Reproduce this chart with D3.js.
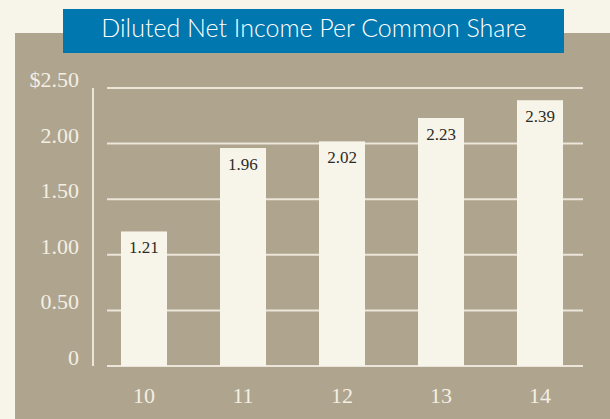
<!DOCTYPE html>
<html><head><meta charset="utf-8">
<script src="https://cdn.jsdelivr.net/npm/d3@7"></script>
<style>html,body{margin:0;padding:0;background:#f7f4e9;}svg{display:block;}</style>
</head><body>
<svg id="c" width="610" height="419"></svg>
<script>
const title = "Diluted Net Income Per Common Share";
const years = ["10", "11", "12", "13", "14"];
const values = [1.21, 1.96, 2.02, 2.23, 2.39];
const valueLabels = ["1.21", "1.96", "2.02", "2.23", "2.39"];
const yTicks = [0, 0.5, 1.0, 1.5, 2.0, 2.5];
const yTickLabels = ["0", "0.50", "1.00", "1.50", "2.00", "$2.50"];

const svg = d3.select("#c");
svg.append("rect").attr("width", 610).attr("height", 419).attr("fill", "#f7f4e9");
svg.append("rect").attr("x", 15).attr("y", 33).attr("width", 595).attr("height", 386).attr("fill", "#afa48e");

// title box
svg.append("rect").attr("x", 63).attr("y", 9).attr("width", 501).attr("height", 44).attr("fill", "#0077ae");
const t = svg.append("text").attr("x", 314).attr("y", 37).attr("text-anchor", "middle")
  .attr("fill", "#ffffff").attr("font-family", "Lato, 'Open Sans', sans-serif").attr("font-weight", 300)
  .attr("font-size", 25).text(title);
const tl = t.node().getComputedTextLength();
if (Math.abs(tl - 422) > 4) t.attr("textLength", 422).attr("lengthAdjust", "spacingAndGlyphs");

const y = d3.scaleLinear().domain([0, 2.5]).range([366, 88]);
const x = d3.scaleBand().domain(years).range([107, 577]).paddingInner(0.5354).paddingOuter(0.1414);

// gridlines
svg.append("g").selectAll("line").data(yTicks).join("line")
  .attr("x1", 107).attr("x2", 583)
  .attr("y1", d => y(d)).attr("y2", d => y(d))
  .attr("stroke", "#ebe6d9").attr("stroke-width", 2);

// vertical axis line
svg.append("line").attr("x1", 93).attr("x2", 93).attr("y1", y(2.5)).attr("y2", y(0))
  .attr("stroke", "#ebe6d9").attr("stroke-width", 2);

// y tick labels
svg.append("g").selectAll("text").data(yTicks).join("text")
  .attr("x", 79).attr("y", d => y(d) - 1).attr("text-anchor", "end")
  .attr("fill", "#f3efe4").attr("font-family", "'Liberation Serif', 'Times New Roman', serif")
  .attr("font-size", 22).text((d, i) => yTickLabels[i]);

// bars
svg.append("g").selectAll("rect").data(values).join("rect")
  .attr("x", (d, i) => x(years[i])).attr("width", x.bandwidth())
  .attr("y", d => y(d)).attr("height", d => y(0) - y(d))
  .attr("fill", "#f7f5ea");

// value labels
svg.append("g").selectAll("text").data(values).join("text")
  .attr("x", (d, i) => x(years[i]) + x.bandwidth() / 2).attr("y", d => y(d) + 22)
  .attr("text-anchor", "middle").attr("fill", "#2e2b27")
  .attr("font-family", "'Liberation Serif', 'Times New Roman', serif").attr("font-size", 17)
  .text((d, i) => valueLabels[i]);

// x labels
svg.append("g").selectAll("text").data(years).join("text")
  .attr("x", d => x(d) + x.bandwidth() / 2).attr("y", 403)
  .attr("text-anchor", "middle").attr("fill", "#f3efe4")
  .attr("font-family", "'Liberation Serif', 'Times New Roman', serif").attr("font-size", 22)
  .text(d => d);
</script>
</body></html>
